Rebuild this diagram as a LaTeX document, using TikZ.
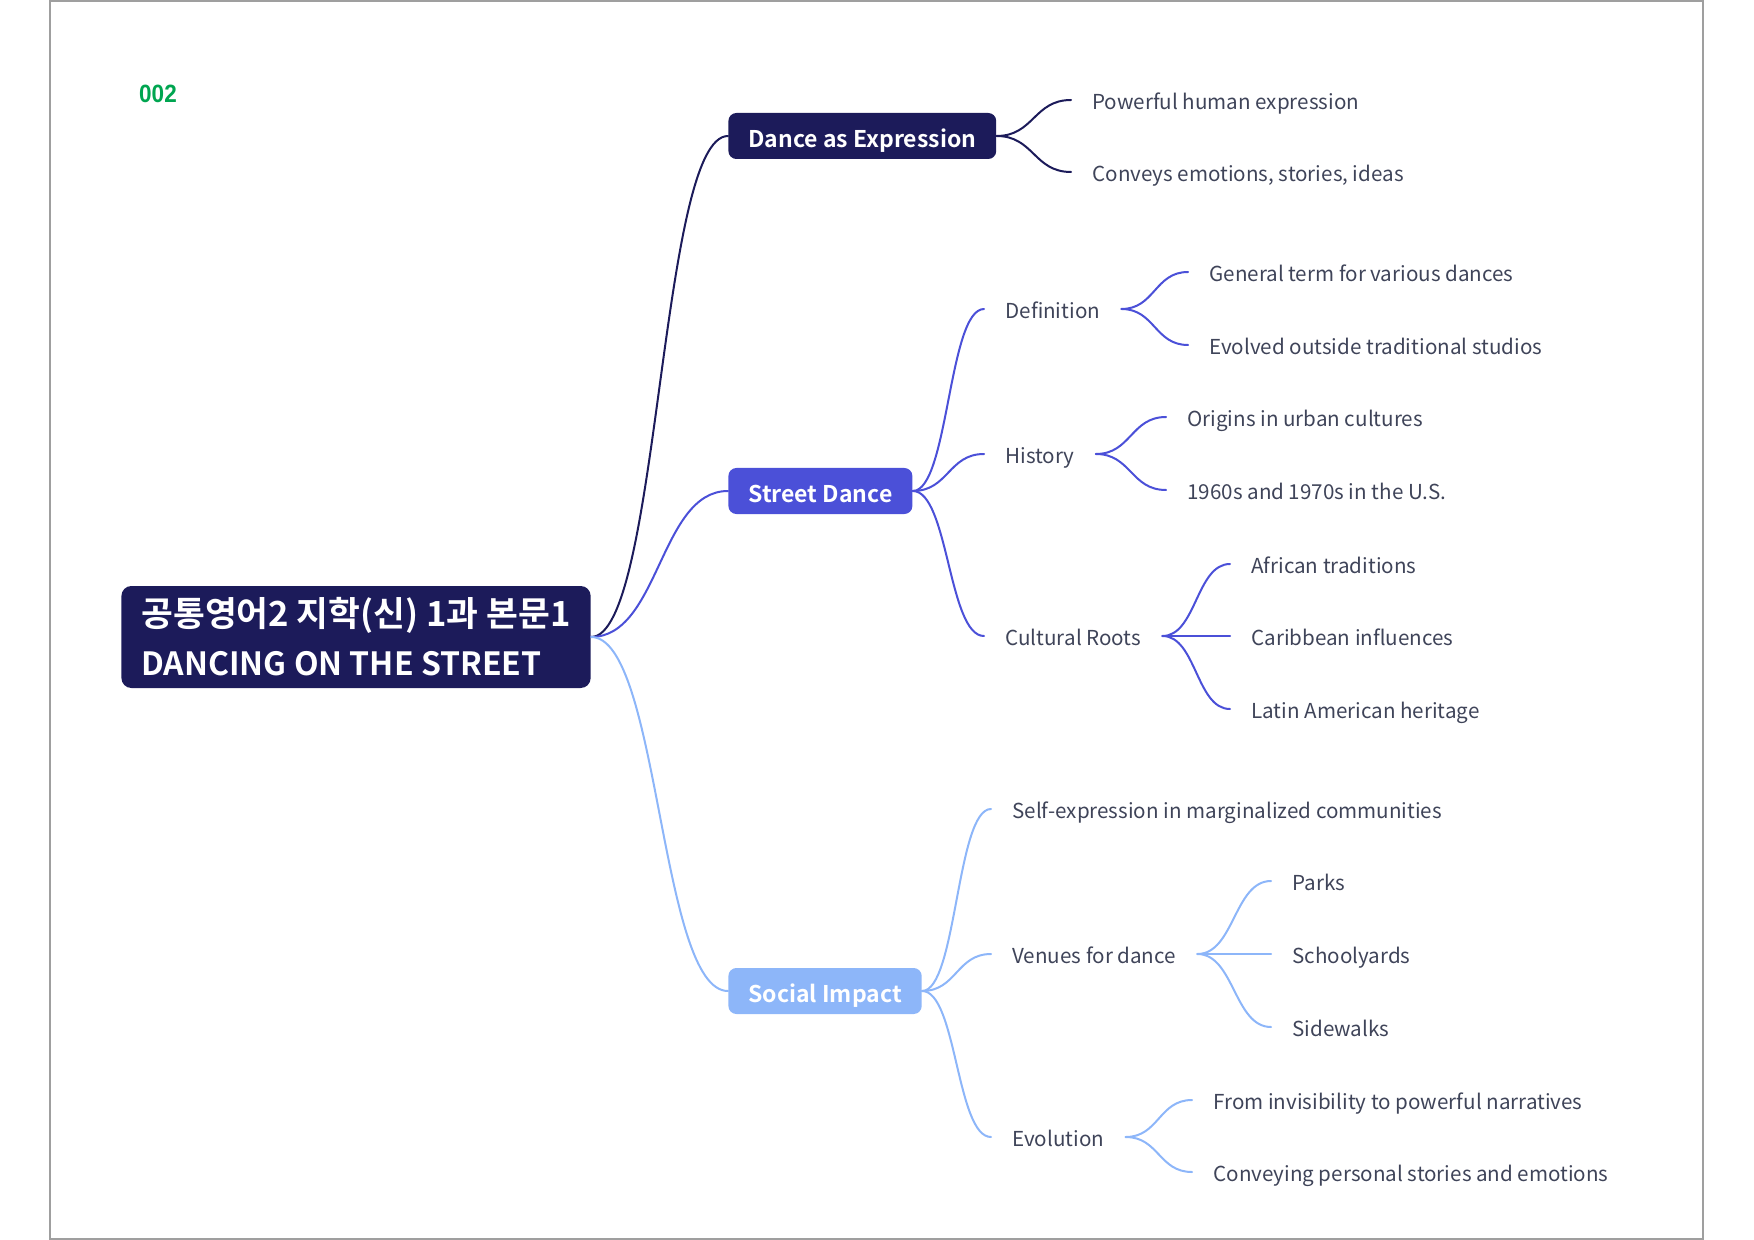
\documentclass[tikz,border=0pt]{standalone}
\usepackage{fontspec}
\setmainfont{Noto Sans CJK KR}[BoldFont={Noto Sans CJK KR Bold}]
\newfontfamily\numfont{Liberation Sans}
\usetikzlibrary{calc,positioning}
\definecolor{navy}{HTML}{1C1B5A}
\definecolor{royal}{HTML}{4B50D8}
\definecolor{sky}{HTML}{8DB6F9}
\definecolor{leafgray}{HTML}{3F4459}
\definecolor{codegreen}{HTML}{00A550}
% curved connector, horizontal at both ends
\newcommand\branch[3]{\draw[#1] let \p1=(#2), \p2=(#3) in (\p1) .. controls ({(\x1+\x2)/2},\y1) and ({(\x1+\x2)/2},\y2) .. (\p2);}

\begin{document}
\begin{tikzpicture}[
        x=0.5pt, y=-0.5pt,
        rootbox/.style={fill=navy, text=white, rounded corners=5pt, align=left,
            font=\bfseries\fontsize{16}{24.5}\selectfont, inner xsep=10pt,
            minimum height=51pt, anchor=west},
        topicbox/.style={rounded corners=4pt, text=white, inner xsep=10pt, inner ysep=3pt,
            font=\bfseries\fontsize{11.5}{14}\selectfont, text height=13.6pt,
            text depth=2pt, minimum height=23pt, anchor=west},
        leaftext/.style={text=leafgray, font=\fontsize{10.3}{13}\selectfont,
            inner xsep=10.5pt, inner ysep=1pt, text height=11.5pt, text depth=2pt,
            anchor=west},
        link/.style={line width=1pt, line cap=round},
    ]
        \useasboundingbox (0,0) rectangle (1754,1240);
        % Frame
        \draw[gray!75, line width=1pt] (50,1) rectangle (1703,1239);
        \node[text=codegreen, font=\numfont\bfseries\fontsize{12.5}{13}\selectfont] (num) at (158,94) {\scalebox{0.9}[1]{002}};

        % Root and topics
        \node[rootbox] (root) at (121,637) {\fontsize{17.3}{24.5}\selectfont 공통영어2 지학(신) 1과 본문1\\[0pt]DANCING ON THE STREET};
        \node[topicbox, fill=navy] (dae) at (728,136) {Dance as Expression};
        \node[topicbox, fill=royal] (sd) at (728,491) {Street Dance};
        \node[topicbox, fill=sky] (si) at (728,991) {Social Impact};

        % Dance as Expression
        \node[leaftext] (pow) at (1071,100) {Powerful human expression};
        \node[leaftext] (conv) at (1071,172) {Conveys emotions, stories, ideas};

        % Street Dance
        \node[leaftext] (def) at (984,309) {Definition};
        \node[leaftext] (hist) at (984,454) {History};
        \node[leaftext] (roots) at (984,636) {Cultural Roots};
        \node[leaftext] (gen) at (1188,272) {General term for various dances};
        \node[leaftext] (evo) at (1188,345) {Evolved outside traditional studios};
        \node[leaftext] (orig) at (1166,417) {Origins in urban cultures};
        \node[leaftext] (sixties) at (1166,490) {1960s and 1970s in the U.S.};
        \node[leaftext] (afr) at (1230,564) {African traditions};
        \node[leaftext] (carib) at (1230,636) {Caribbean influences};
        \node[leaftext] (latin) at (1230,709) {Latin American heritage};

        % Social Impact
        \node[leaftext] (selfexp) at (991,809) {Self-expression in marginalized communities};
        \node[leaftext] (venues) at (991,954) {Venues for dance};
        \node[leaftext] (evol) at (991,1137) {Evolution};
        \node[leaftext] (parks) at (1271,881) {Parks};
        \node[leaftext] (school) at (1271,954) {Schoolyards};
        \node[leaftext] (side) at (1271,1027) {Sidewalks};
        \node[leaftext] (invis) at (1192,1100) {From invisibility to powerful narratives};
        \node[leaftext] (convey) at (1192,1172) {Conveying personal stories and emotions};

        % Connectors
        \foreach \a/\b in {root/dae, dae/pow, dae/conv}
            {\branch{link, navy}{\a.east}{\b.west}}
        \foreach \a/\b in {root/sd, sd/def, sd/hist, sd/roots, def/gen, def/evo,
                hist/orig, hist/sixties, roots/afr, roots/carib, roots/latin}
            {\branch{link, royal}{\a.east}{\b.west}}
        \foreach \a/\b in {root/si, si/selfexp, si/venues, si/evol, venues/parks,
                venues/school, venues/side, evol/invis, evol/convey}
            {\branch{link, sky}{\a.east}{\b.west}}
    \end{tikzpicture}
\end{document}
